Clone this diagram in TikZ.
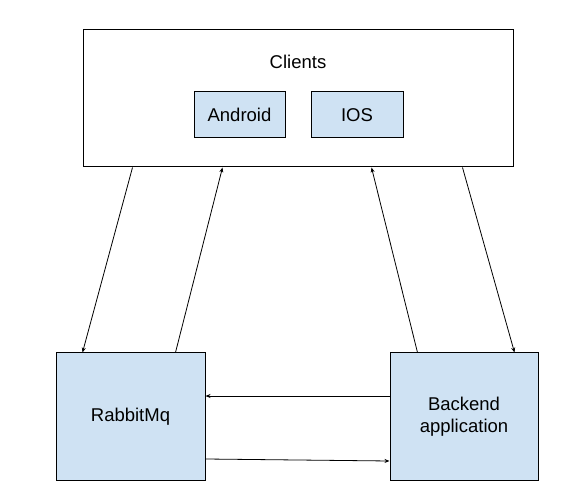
\documentclass[tikz,border=0pt]{standalone}
\usepackage{fontspec}
\setmainfont{Liberation Sans}
\usetikzlibrary{calc,arrows.meta,positioning}
\tikzset {>={Stealth[length=5pt,width=4pt]}}
\definecolor{boxblue}{HTML}{CFE2F3}
\tikzset{
  outer/.style={draw,line width=1pt,fill=white,inner sep=0pt},
  service/.style={draw,line width=1pt,fill=boxblue,inner sep=0pt,align=center},
  link/.style={->,line width=.8pt}
}

\begin{document}
\begin{tikzpicture}[x=1pt,y=-1pt,font=\fontsize{18.5}{21.5}\selectfont]
\useasboundingbox (0,0) rectangle (586,502);
\node[outer,minimum width=430pt,minimum height=137pt] (clients) at (298,98.5) {};
\node (clientstext) at (298,62) {Clients};
\node[service,minimum width=91pt,minimum height=46pt] (android) at (239.5,115) {Android};
\node[service,minimum width=92pt,minimum height=46pt] (ios) at (357,115) {IOS};
\node[service,minimum width=149pt,minimum height=127pt] (rabbit) at (130.5,416.5) {RabbitMq};
\node[service,minimum width=148pt,minimum height=127pt] (backend) at (464,416.5) {Backend\\application};
\draw[link] ([xshift=50pt]clients.south west) -- ([xshift=27pt]rabbit.north west);
\draw[link] ([xshift=120pt]rabbit.north west) -- ([xshift=140pt]clients.south west);
\draw[link] ([xshift=28pt]backend.north west) -- ([xshift=289pt]clients.south west);
\draw[link] ([xshift=380pt]clients.south west) -- ([xshift=125pt]backend.north west);
\draw[link] ([yshift=20.5pt]backend.west) -- ([yshift=20.5pt]rabbit.east);
\draw[link] ([yshift=-42.5pt]rabbit.east) -- ([yshift=-44.5pt]backend.west);
\end{tikzpicture}
\end{document}
